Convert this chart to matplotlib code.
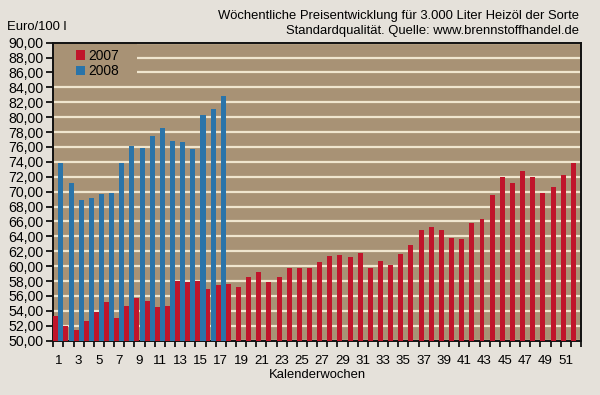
import matplotlib
matplotlib.use("Agg")
import matplotlib.pyplot as plt
from matplotlib.patches import Rectangle
import numpy as np

weeks = list(range(1, 53))
v2007 = [53.3, 52.0, 51.4, 52.7, 53.8, 55.2, 53.0, 54.7, 55.7, 55.3,
         54.5, 54.6, 58.0, 57.9, 58.0, 57.0, 57.5, 57.6, 57.2, 58.5,
         59.2, 57.9, 58.5, 59.7, 59.8, 59.8, 60.5, 61.3, 61.5, 61.2,
         61.8, 59.8, 60.7, 60.1, 61.7, 62.8, 64.8, 65.3, 64.9, 63.8,
         63.7, 65.8, 66.3, 69.5, 71.9, 71.2, 72.8, 71.9, 69.8, 70.6,
         72.3, 73.9]
weeks2008 = list(range(1, 18))
v2008 = [73.9, 71.2, 68.9, 69.2, 69.7, 69.8, 73.8, 76.1, 75.9, 77.5,
         78.5, 76.8, 76.7, 75.7, 80.3, 81.1, 82.8]
ytick_vals = list(range(50, 91, 2))
ytick_labels = [f"{v},00" for v in ytick_vals]
xlabel_weeks = list(range(1, 52, 2))

plt.rcParams['font.family'] = ['Liberation Sans', 'DejaVu Sans']
fs_text = 9.4
fs_ytick = 10.2
fs_xtick = 9.6
fs_leg = 9.9

bg = '#e5e1da'
face = '#a89275'
red = '#c0152b'
blue = '#2a74a9'
grid = '#f0e6cf'

W, H = 600, 395
fig = plt.figure(figsize=(W / 100, H / 100), dpi=100, facecolor=bg)
ax_l, ax_r, ax_t, ax_b = 53.3, 581.0, 42.6, 340.7
ax = fig.add_axes([ax_l / W, 1 - ax_b / H, (ax_r - ax_l) / W, (ax_b - ax_t) / H])
ax.set_facecolor(face)

x07 = np.array(weeks, dtype=float)
x08 = np.array(weeks2008, dtype=float)
ax.bar(x07 - 0.5, np.array(v2007) - 50, bottom=50, width=0.49, align='edge',
       color=red, label='2007', zorder=3)
ax.bar(x08, np.array(v2008) - 50, bottom=50, width=0.5, align='edge',
       color=blue, label='2008', zorder=3)

ax.set_xlim(0.5, 52.5)
ax.set_ylim(50, 90)
ax.set_yticks(ytick_vals)
ax.set_yticklabels(ytick_labels, fontsize=fs_ytick)
ax.set_axisbelow(True)
ax.yaxis.grid(True, color=grid, linewidth=1.6)
ax.xaxis.grid(False)

ax.set_xticks(np.arange(0.5, 53, 1.0))
ax.set_xticklabels([])
ax.set_xticks(xlabel_weeks, minor=True)
ax.set_xticklabels([str(w) for w in xlabel_weeks], minor=True, fontsize=fs_xtick)
ax.tick_params(axis='x', which='major', length=4, width=1.2, direction='out', color='black')
ax.tick_params(axis='x', which='minor', length=0, pad=10)
ax.tick_params(axis='y', length=5, width=1.2, direction='out', pad=2)
for s in ax.spines.values():
    s.set_linewidth(1.4)
    s.set_color('#111111')

ax.set_xlabel('Kalenderwochen', fontsize=fs_text, labelpad=2)

# legend background patch covering the grid lines
box_w = (137 - ax_l) / (ax_r - ax_l)
box_h = (80 - ax_t) / (ax_b - ax_t)
ax.add_patch(Rectangle((0, 1 - box_h), box_w, box_h, transform=ax.transAxes,
                       facecolor=face, edgecolor='none', zorder=2))

leg_x = (76 - ax_l) / (ax_r - ax_l)
leg_y = (ax_b - 49.0) / (ax_b - ax_t)
leg = ax.legend(loc='upper left', bbox_to_anchor=(leg_x, leg_y), frameon=False,
                fontsize=fs_leg, handlelength=0.68, handleheight=0.68,
                handletextpad=0.2, labelspacing=0.08, borderpad=0.0,
                borderaxespad=0.0)
leg.set_zorder(5)

fig.text(7.3 / W, 1 - 27 / H, 'Euro/100 l', fontsize=fs_text, ha='left', va='center')
fig.text(579 / W, 1 - 16.5 / H,
         'Wöchentliche Preisentwicklung für 3.000 Liter Heizöl der Sorte',
         fontsize=fs_text, ha='right', va='center')
fig.text(579 / W, 1 - 31 / H,
         'Standardqualität. Quelle: www.brennstoffhandel.de',
         fontsize=fs_text, ha='right', va='center')

fig.savefig('out.png', dpi=100, facecolor=bg)
